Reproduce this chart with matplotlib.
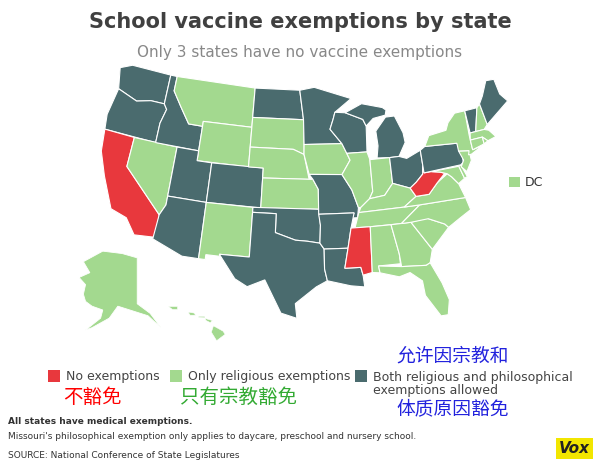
import numpy as np
import matplotlib
matplotlib.use("Agg")
import matplotlib.pyplot as plt
from matplotlib.patches import Polygon, Rectangle

RED, GREEN, DARK = "#e8383d", "#a3d98f", "#4a6b6e"
categories = ["No exemptions", "Only religious exemptions", "Both religious and philosophical\nexemptions allowed"]
cat_colors = [RED, GREEN, DARK]
no_exempt = ["CA", "MS", "WV"]
both = ["WA","OR","ID","UT","AZ","CO","ND","MN","WI","MI","MIU","OH","PA","ME","VT","TX","OK","AR","LA","MO"]

states = {
"WA":[(-124.7,48.4),(-123,49),(-117,49),(-117,46),(-119,46),(-121,45.6),(-124,46.3)],
"OR":[(-124,46.3),(-121,45.6),(-119,46),(-117,46),(-116.5,45.5),(-117,44),(-117,42),(-124.2,42),(-124.5,43.5)],
"CA":[(-124.2,42),(-120,42),(-120,39),(-114.6,35),(-114.5,32.7),(-117.1,32.5),(-118.5,34),(-120.6,34.5),(-122.5,37.5),(-123.8,39.8)],
"NV":[(-120,42),(-114,42),(-114,36.1),(-114.6,35),(-120,39)],
"ID":[(-117,49),(-116,49),(-116,47.5),(-114.5,46),(-113,44.5),(-111,44.5),(-111,42),(-117,42),(-117,44),(-116.5,45.5),(-117,46)],
"MT":[(-116,49),(-104,49),(-104,45),(-111,45),(-111,44.5),(-113,44.5),(-114.5,46),(-116,47.5)],
"WY":[(-111,45),(-104,45),(-104,41),(-111,41)],
"UT":[(-114,42),(-111,42),(-111,41),(-109,41),(-109,37),(-114,37)],
"AZ":[(-114,37),(-109,37),(-109,31.3),(-111,31.3),(-114.8,32.5),(-114.6,35),(-114,36.1)],
"CO":[(-109,41),(-102,41),(-102,37),(-109,37)],
"NM":[(-109,37),(-103,37),(-103,32),(-106.6,32),(-106.5,31.8),(-108.2,31.8),(-108.2,31.3),(-109,31.3)],
"ND":[(-104,49),(-97.2,49),(-96.6,46),(-104,46)],
"SD":[(-104,46),(-96.6,46),(-96.5,43.5),(-96.5,42.5),(-98,43),(-104,43)],
"NE":[(-104,43),(-98,43),(-96.5,42.5),(-95.8,40),(-102,40),(-102,41),(-104,41)],
"KS":[(-102,40),(-95.3,40),(-94.6,39),(-94.6,37),(-102,37)],
"OK":[(-103,37),(-94.6,37),(-94.4,35.4),(-94.5,33.6),(-96,33.8),(-97.5,33.9),(-100,34.6),(-100,36.5),(-103,36.5)],
"TX":[(-106.6,32),(-103,32),(-103,36.5),(-100,36.5),(-100,34.6),(-97.5,33.9),(-96,33.8),(-94.5,33.6),(-94,33),(-94,31),(-93.7,29.8),(-95,29.2),(-97.4,27.5),(-97.2,26),(-99,26.5),(-101,29.8),(-103,29),(-104.5,29.7)],
"MN":[(-97.2,49),(-95,49.3),(-89.5,48),(-92,46.7),(-92.3,46),(-92.8,45),(-91.2,43.5),(-96.5,43.5),(-96.6,46)],
"IA":[(-96.5,43.5),(-91.2,43.5),(-90.6,42.5),(-90.2,41.8),(-91.4,40.4),(-95.8,40.5),(-96.5,42.5)],
"MO":[(-95.8,40.5),(-91.4,40.4),(-90.2,38.8),(-89.5,37),(-89.7,36),(-90.4,36),(-90.1,36.5),(-94.6,36.5),(-94.6,39),(-95.3,40)],
"AR":[(-94.6,36.5),(-90.1,36.5),(-90.6,35),(-91.1,33),(-94,33),(-94.5,33.6),(-94.4,35.4)],
"LA":[(-94,33),(-91.1,33),(-91.6,31),(-89.7,31),(-89.5,30.2),(-89.4,29),(-91,29.2),(-93.7,29.8),(-94,31)],
"WI":[(-92.8,45),(-92.3,46),(-92,46.7),(-90.5,46.6),(-88,45.8),(-87.6,45.1),(-87.8,42.5),(-90.6,42.5),(-91.2,43.5)],
"IL":[(-90.6,42.5),(-87.8,42.5),(-87.5,41.7),(-87.5,38.5),(-88,37.8),(-89.2,37),(-89.5,37),(-90.2,38.8),(-91.4,40.4),(-90.2,41.8)],
"MI":[(-86.5,41.8),(-84.8,41.7),(-83.5,41.7),(-82.4,43),(-82.5,44),(-83.4,45.8),(-84.7,45.8),(-86.3,44.5),(-86.2,43)],
"MIU":[(-90.5,46.6),(-88,45.8),(-87.6,45.1),(-86.5,45.8),(-84.7,46),(-84.5,46.5),(-85,46.8),(-88,47.4)],
"IN":[(-87.5,41.7),(-84.8,41.7),(-84.8,39.1),(-86,38),(-88,37.8),(-87.5,38.5)],
"OH":[(-84.8,41.7),(-83.5,41.7),(-82.5,41.4),(-80.5,42),(-80.5,40.6),(-80.7,39.6),(-81.7,38.9),(-82.6,38.4),(-84.8,39.1)],
"KY":[(-89.2,37),(-88,37.8),(-86,38),(-84.8,39.1),(-82.6,38.4),(-82,37.5),(-83.7,36.6),(-89.5,36.5)],
"TN":[(-90.1,35),(-89.7,36),(-89.5,36.5),(-83.7,36.6),(-81.7,36.6),(-84.3,35),(-88.2,35)],
"MS":[(-91.1,33),(-90.6,35),(-88.2,35),(-88.4,30.4),(-89.5,30.2),(-89.7,31),(-91.6,31)],
"AL":[(-88.2,35),(-85.6,35),(-85,32),(-85,31),(-87.6,31),(-87.5,30.3),(-88.4,30.4)],
"GA":[(-85.6,35),(-83.1,35),(-81,32),(-81.5,30.7),(-82,30.5),(-84.9,30.7),(-85,32)],
"FL":[(-87.6,31),(-84.9,30.7),(-82,30.5),(-81.5,30.7),(-80.5,28.5),(-80,26.7),(-80.4,25.2),(-81.2,25.2),(-82.6,27.5),(-82.7,29),(-84,30),(-85.3,29.7),(-87.5,30.3)],
"SC":[(-83.1,35),(-81,35.2),(-80.9,35.1),(-79,34.3),(-78.6,33.9),(-81,32)],
"NC":[(-84.3,35),(-81.7,36.6),(-75.8,36.5),(-75.5,35.2),(-77,34.6),(-78.6,33.9),(-79,34.3),(-80.9,35.1),(-83.1,35)],
"VA":[(-83.7,36.6),(-82,37.5),(-80.3,37.5),(-79,38.5),(-77.5,39.2),(-77,38.8),(-76.3,38),(-75.8,36.5),(-81.7,36.6)],
"WV":[(-82.6,38.4),(-81.7,38.9),(-80.7,39.6),(-80.5,40.6),(-80.5,39.7),(-79.5,39.7),(-78.4,39.5),(-77.8,39.3),(-79,38.5),(-80.3,37.5),(-82,37.5)],
"MD":[(-79.5,39.7),(-75.8,39.7),(-75.4,38.4),(-76.3,38),(-77,38.8),(-77.5,39.2),(-78.4,39.5)],
"DE":[(-75.8,39.7),(-75.5,39.8),(-75,38.5),(-75.4,38.4)],
"PA":[(-80.5,42),(-79.8,42.3),(-75.4,42),(-75,41),(-75.1,40),(-75.5,39.8),(-80.5,39.7)],
"NJ":[(-75.4,41.2),(-74,41),(-74,40),(-74.9,39),(-75.5,39.6),(-75,40.2)],
"NY":[(-79.8,42.3),(-79,43.3),(-76.5,43.5),(-76,44.2),(-74.8,45),(-73.3,45),(-73.5,42.5),(-73.5,41),(-72,41.2),(-73.8,40.6),(-74.2,40.6),(-74,41),(-75.4,41.2),(-75.4,42)],
"VT":[(-73.3,45),(-71.5,45),(-72.5,42.7),(-73.3,42.7)],
"NH":[(-71.5,45),(-71,45.3),(-70.7,43.1),(-71.3,42.7),(-72.5,42.7)],
"ME":[(-71,45.3),(-70.3,46),(-69.2,47.4),(-68,47.3),(-67.8,45.7),(-67,44.8),(-70.7,43.1)],
"MA":[(-73.3,42.7),(-71.3,42.7),(-70.7,42.5),(-70,41.7),(-71.2,41.5),(-71.8,42),(-73.5,42)],
"CT":[(-73.5,42),(-71.8,42),(-71.8,41.3),(-73.5,41)],
"RI":[(-71.8,42),(-71.2,41.5),(-71.8,41.3)],
}
alaska = [(-141,69.6),(-141,60),(-135,58),(-130,55),(-136,57.5),(-150,59.5),(-154,57),(-162,55),(-165,54.5),(-158,57),(-157,58.7),(-162,59.5),(-165,60.5),(-166,62),(-165,64),(-168,65.5),(-163,66.5),(-166,68.8),(-157,71),(-148,70.5)]
hawaii = [
[(-160.2,22.2),(-159.3,22.2),(-159.3,21.9),(-159.8,21.9)],
[(-158.3,21.6),(-157.7,21.5),(-157.6,21.3),(-158.1,21.3)],
[(-157.3,21.2),(-156.7,21.2),(-156.7,21.05),(-157.3,21.1)],
[(-156.7,21.0),(-156.0,20.8),(-156.2,20.6),(-156.6,20.8)],
[(-155.9,20.3),(-155.0,19.8),(-154.8,19.5),(-155.6,18.9),(-156.1,19.7)],
]

def albers(lon, lat, lon0=-96, lat0=37.5, p1=29.5, p2=45.5):
    lon, lat = np.radians(lon), np.radians(lat)
    lon0, lat0, p1, p2 = map(np.radians, (lon0, lat0, p1, p2))
    n = (np.sin(p1) + np.sin(p2)) / 2
    C = np.cos(p1) ** 2 + 2 * n * np.sin(p1)
    rho = np.sqrt(C - 2 * n * np.sin(lat)) / n
    rho0 = np.sqrt(C - 2 * n * np.sin(lat0)) / n
    th = n * (lon - lon0)
    return rho * np.sin(th), rho0 - rho * np.cos(th)

def color(code):
    if code in no_exempt: return RED
    if code in both: return DARK
    return GREEN

fig = plt.figure(figsize=(6, 4.65), dpi=100)
ax = fig.add_axes([0.135, 0.255, 0.745, 0.665])
for code, pts in states.items():
    a = np.array(pts)
    x, y = albers(a[:, 0], a[:, 1])
    ax.add_patch(Polygon(np.c_[x, y], closed=True, fc=color(code), ec="white", lw=0.8))
ax.autoscale_view()
ax.set_aspect("equal")
ax.axis("off")

axa = fig.add_axes([0.125, 0.28, 0.15, 0.19])
a = np.array(alaska)
axa.add_patch(Polygon(np.c_[a[:, 0] * 0.45, a[:, 1]], fc=GREEN, ec="white", lw=0.6))
axa.autoscale_view(); axa.set_aspect("equal"); axa.axis("off")

axh = fig.add_axes([0.275, 0.255, 0.105, 0.1])
for isl in hawaii:
    a = np.array(isl)
    axh.add_patch(Polygon(a, fc=GREEN, ec="white", lw=0.4))
axh.autoscale_view(); axh.set_aspect("equal"); axh.axis("off")

fig.text(0.5, 0.952, "School vaccine exemptions by state", ha="center", va="center",
         fontsize=15, fontweight="bold", color="#404040")
fig.text(0.5, 0.888, "Only 3 states have no vaccine exemptions", ha="center", va="center",
         fontsize=11, color="#888888")
fig.patches.append(Rectangle((0.848, 0.597), 0.018, 0.023, transform=fig.transFigure, fc=GREEN, figure=fig))
fig.text(0.875, 0.608, "DC", va="center", fontsize=9, color="#333333")

leg_x = [0.08, 0.283, 0.592]
for xx, c, lab in zip(leg_x, cat_colors, categories):
    fig.patches.append(Rectangle((xx, 0.178), 0.02, 0.026, transform=fig.transFigure, fc=c, figure=fig))
    if "\n" in lab:
        fig.text(xx + 0.03, 0.203, lab, va="top", fontsize=9, color="#444444", linespacing=1.0)
    else:
        fig.text(xx + 0.03, 0.191, lab, va="center", fontsize=9, color="#444444")

cjk = ["Noto Sans CJK SC", "DejaVu Sans"]
fig.text(0.105, 0.145, "不豁免", family=cjk, fontsize=14, color="red", va="center")
fig.text(0.30, 0.145, "只有宗教豁免", family=cjk, fontsize=14, color="#33aa33", va="center")
fig.text(0.66, 0.235, "允许因宗教和", family=cjk, fontsize=13.5, color="#2222dd", va="center")
fig.text(0.66, 0.12, "体质原因豁免", family=cjk, fontsize=13.5, color="#2222dd", va="center")

fig.text(0.013, 0.088, "All states have medical exemptions.", fontsize=6.5, fontweight="bold", color="#333333")
fig.text(0.013, 0.055, "Missouri's philosophical exemption only applies to daycare, preschool and nursery school.",
         fontsize=6.5, color="#333333")
fig.text(0.013, 0.015, "SOURCE: National Conference of State Legislatures", fontsize=6.5, color="#333333")
fig.text(0.958, 0.035, "Vox", ha="center", va="center", fontsize=11, fontweight="bold", style="italic",
         color="#222222", bbox=dict(boxstyle="square,pad=0.2", fc="#f2e600", ec="none"))
fig.savefig("out.png", dpi=100, facecolor="white")
